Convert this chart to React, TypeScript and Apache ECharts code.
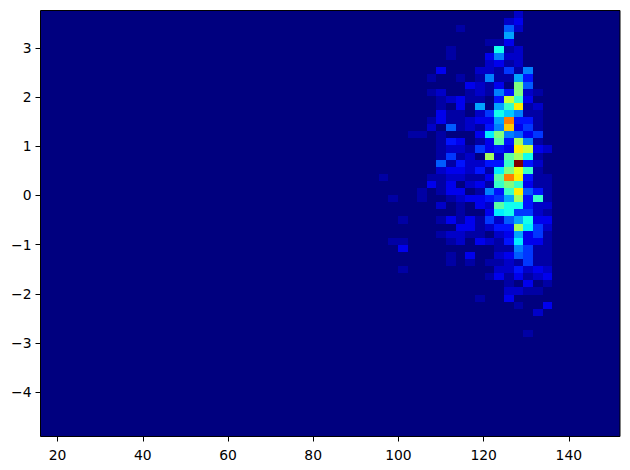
import React, { useEffect, useRef } from "react";
import * as echarts from "echarts";

const xRange = [16, 152];
const yRange = [-4.9, 3.76];
const binCount = 60;
const firstColumn = 35;
const xTicks = [20, 40, 60, 80, 100, 120, 140];
const yTicks = [-4, -3, -2, -1, 0, 1, 2, 3];
const maxCount = 28;
const jetStops = ["#00007f", "#0000ff", "#007fff", "#00ffff", "#7fff7f", "#ffff00", "#ff7f00", "#ff0000", "#7f0000"];

// One list per row of bins, from the top of the plot; columns start at firstColumn.
const counts = [
  [0,0,0,0,0,0,0,0,0,0,0,0,0,0,2,0,0,0],
  [0,0,0,0,0,0,0,0,0,0,0,0,0,2,3,0,0,0],
  [0,0,0,0,0,0,0,0,1,0,0,0,0,6,2,0,0,0],
  [0,0,0,0,0,0,0,0,0,0,0,0,0,8,0,0,0,0],
  [0,0,0,0,0,0,0,0,0,0,0,1,1,3,0,0,0,0],
  [0,0,0,0,0,0,0,1,0,0,0,0,11,1,2,0,0,0],
  [0,0,0,0,0,0,0,1,0,0,0,3,7,2,2,0,0,0],
  [0,0,0,0,0,0,0,0,0,0,0,2,3,1,2,0,0,0],
  [0,0,0,0,0,0,3,0,0,0,2,2,1,5,1,7,0,0],
  [0,0,0,0,0,1,0,0,1,0,1,7,1,1,8,4,0,0],
  [0,0,0,0,0,0,0,0,0,3,2,1,3,0,14,6,0,0],
  [0,0,0,0,0,1,2,0,0,1,2,1,7,4,14,2,1,0],
  [0,0,0,0,0,0,1,2,3,1,1,0,4,16,12,3,0,0],
  [0,0,0,0,0,0,1,0,3,0,8,0,8,12,18,1,2,0],
  [0,0,0,0,0,0,3,1,1,0,2,5,11,9,7,1,1,0],
  [0,0,0,0,0,1,3,1,1,2,3,3,8,21,4,4,1,0],
  [0,0,0,0,0,2,0,6,1,2,1,4,7,19,3,5,1,0],
  [0,0,0,1,1,0,1,0,0,0,3,10,14,7,6,3,5,0],
  [0,0,0,0,0,0,1,4,3,0,1,3,13,4,15,7,1,0],
  [0,0,0,0,0,0,1,2,2,1,5,3,4,3,18,16,3,2],
  [0,0,0,0,0,0,1,5,1,2,0,15,2,13,15,11,1,0],
  [0,0,0,0,0,0,6,1,4,2,2,4,4,12,28,4,2,0],
  [0,0,0,0,0,0,2,3,3,2,4,1,10,14,17,12,1,0],
  [1,0,0,0,0,1,1,2,2,1,1,3,13,21,18,4,1,1],
  [0,0,0,0,0,3,1,3,0,2,3,1,12,14,12,3,1,1],
  [0,0,0,0,1,0,1,3,3,0,1,7,4,12,18,6,4,1],
  [0,1,0,0,1,0,0,1,2,3,3,4,5,8,15,4,12,1],
  [0,0,0,0,0,0,2,0,1,0,3,2,13,11,11,4,2,2],
  [0,0,0,0,0,0,0,0,1,0,0,3,10,11,5,5,2,1],
  [0,0,1,0,0,0,1,3,1,3,1,5,2,6,8,11,3,3],
  [0,0,0,0,0,0,0,0,3,3,1,2,4,4,15,10,5,2],
  [0,0,0,0,0,0,1,2,2,1,1,0,2,3,8,3,5,1],
  [0,1,1,0,0,0,0,1,2,0,3,2,1,4,10,3,3,1],
  [0,0,3,0,0,0,0,0,0,0,0,0,1,1,7,5,1,1],
  [0,0,0,0,0,0,0,1,0,3,0,0,2,3,6,5,1,1],
  [0,0,0,0,0,0,0,1,0,1,0,1,1,2,1,5,1,1],
  [0,0,1,0,0,0,0,0,0,0,0,0,2,2,4,2,3,2],
  [0,0,0,0,0,0,0,0,0,0,0,1,3,1,3,1,2,3],
  [0,0,0,0,0,0,0,0,0,0,0,0,0,1,0,3,0,1],
  [0,0,0,0,0,0,0,0,0,0,0,0,0,2,2,1,1,0],
  [0,0,0,0,0,0,0,0,0,0,1,0,0,3,0,0,0,0],
  [0,0,0,0,0,0,0,0,0,0,0,0,0,0,1,0,0,3],
  [0,0,0,0,0,0,0,0,0,0,0,0,0,0,0,0,2,0],
  [0,0,0,0,0,0,0,0,0,0,0,0,0,0,0,0,0,0],
  [0,0,0,0,0,0,0,0,0,0,0,0,0,0,0,0,0,0],
  [0,0,0,0,0,0,0,0,0,0,0,0,0,0,0,1,0,0],
];

const minusLabel = (v: number) => String(v).replace("-", "\u2212");

export default function App() {
  const ref = useRef<HTMLDivElement>(null);
  useEffect(() => {
    const chart = echarts.init(ref.current!, undefined, { renderer: "svg" });
    const dx = (xRange[1] - xRange[0]) / binCount;
    const dy = (yRange[1] - yRange[0]) / binCount;
    const data: number[][] = [];
    counts.forEach((row, r) =>
      row.forEach((c, i) => {
        if (c > 0) {
          const col = firstColumn + i;
          data.push([
            xRange[0] + col * dx,
            xRange[0] + (col + 1) * dx,
            yRange[1] - (r + 1) * dy,
            yRange[1] - r * dy,
            c,
          ]);
        }
      })
    );
    const axisCommon = {
      type: "value",
      splitLine: { show: false },
      axisLine: { show: false, onZero: false },
    };
    const tickStyle = { show: true, length: 5, lineStyle: { color: "#000", width: 1 } };
    const labelStyle = { color: "#000", fontFamily: "DejaVu Sans", fontSize: 13.9 };
    chart.setOption({
      animation: false,
      backgroundColor: "#fff",
      grid: {
        left: 40.5,
        right: 10,
        top: 10.5,
        bottom: 33.5,
        show: true,
        backgroundColor: "#00007f",
        borderColor: "#000",
        borderWidth: 1,
      },
      xAxis: {
        ...axisCommon,
        position: "bottom",
        min: xRange[0],
        max: xRange[1],
        axisTick: { ...tickStyle, customValues: xTicks },
        axisLabel: { ...labelStyle, show: true, margin: 11, customValues: xTicks, formatter: minusLabel },
      },
      yAxis: {
        ...axisCommon,
        position: "left",
        min: yRange[0],
        max: yRange[1],
        axisTick: { ...tickStyle, customValues: yTicks },
        axisLabel: { ...labelStyle, show: true, margin: 9, customValues: yTicks, formatter: minusLabel },
      },
      visualMap: {
        show: false,
        type: "continuous",
        dimension: 4,
        min: 0,
        max: maxCount,
        inRange: { color: jetStops },
      },
      series: [
        {
          type: "custom",
          coordinateSystem: "cartesian2d",
          encode: { x: [0, 1], y: [2, 3] },
          data,
          clip: true,
          renderItem: (_p: any, api: any) => {
            const a = api.coord([api.value(0), api.value(3)]);
            const b = api.coord([api.value(1), api.value(2)]);
            const x = Math.round(a[0]);
            const y = Math.round(a[1]);
            return {
              type: "rect",
              shape: { x, y, width: Math.round(b[0]) - x, height: Math.round(b[1]) - y },
              style: { fill: api.visual("color") },
            };
          },
        },
      ],
    });
    return () => chart.dispose();
  }, []);
  return <div ref={ref} style={{ position: "absolute", left: 0, top: 0, width: 630, height: 470 }} />;
}
